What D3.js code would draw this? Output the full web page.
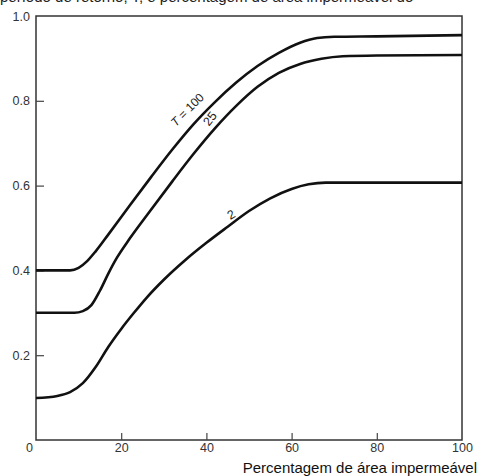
<!DOCTYPE html>
<html>
<head>
<meta charset="utf-8">
<script src="https://cdn.jsdelivr.net/npm/d3@7"></script>
<style>
  body { margin: 0; background: #fff; }
  svg { display: block; }
</style>
</head>
<body>
<div id="chart"></div>
<script>
// Curve values: [percentage impervious, coefficient]
const curveT100 = [
    [0, 0.400], [8, 0.400], [10, 0.406], [12, 0.422], [14, 0.445],
    [17, 0.485], [22, 0.553], [27, 0.620], [32, 0.685], [37, 0.745],
    [42, 0.797], [47, 0.843], [52, 0.882], [57, 0.913], [62, 0.937],
    [66, 0.948], [70, 0.951], [80, 0.952], [100, 0.955]
];
const curveT25 = [
    [0, 0.300], [9, 0.300], [11, 0.304], [13, 0.318], [15, 0.352],
    [17, 0.393], [19, 0.430], [22, 0.475], [27, 0.543], [32, 0.610],
    [37, 0.675], [42, 0.735], [47, 0.788], [52, 0.833], [57, 0.866],
    [62, 0.887], [67, 0.899], [72, 0.905], [80, 0.907], [100, 0.908]
];
const curveT2 = [
    [0, 0.099], [5, 0.104], [8, 0.113], [11, 0.134], [14, 0.172],
    [17, 0.220], [20, 0.262], [23, 0.300], [26, 0.336], [30, 0.378],
    [35, 0.424], [40, 0.465], [45, 0.503], [50, 0.540], [55, 0.570],
    [60, 0.592], [64, 0.603], [68, 0.607], [100, 0.607]
];
const xTicks = [0, 20, 40, 60, 80, 100];
const yTicks = [0.2, 0.4, 0.6, 0.8, 1.0];
const xTitle = "Percentagem de área impermeável";
const topText = "período de retorno, T, e percentagem de área impermeável do";

const width = 480, height = 476;

const svg = d3.select("#chart").append("svg")
    .attr("width", width)
    .attr("height", height)
    .style("font-family", "'Liberation Sans', Arial, sans-serif");

const x = d3.scaleLinear().domain([0, 100]).range([36, 462]);
const y = d3.scaleLinear().domain([0, 1]).range([440, 16]);

// caption line, cut off at the top edge as in the scan
svg.append("text")
    .attr("x", 0)
    .attr("y", 1.5)
    .attr("font-size", 15)
    .attr("fill", "#222")
    .text(topText);

// frame
svg.append("rect")
    .attr("x", x(0))
    .attr("y", y(1))
    .attr("width", x(100) - x(0))
    .attr("height", y(0) - y(1))
    .attr("fill", "none")
    .attr("stroke", "#333")
    .attr("stroke-width", 1.5);

// x axis (ticks point inward)
const xAxis = svg.append("g")
    .attr("transform", `translate(0,${y(0)})`)
    .call(d3.axisBottom(x).tickValues(xTicks).tickSizeInner(-7).tickSizeOuter(0).tickPadding(3));
xAxis.select(".domain").remove();
xAxis.selectAll("line").attr("stroke", "#444").attr("stroke-width", 1.2);
xAxis.selectAll("text")
    .attr("font-size", 12.5)
    .attr("fill", "#333")
    .attr("dx", d => d === 0 ? -7 : 0);
xAxis.selectAll(".tick").filter(d => d === 0 || d === 100).select("line").remove();

// y axis
const yAxis = svg.append("g")
    .attr("transform", `translate(${x(0)},0)`)
    .call(d3.axisLeft(y).tickValues(yTicks).tickFormat(d3.format(".1f")).tickSizeInner(-8).tickSizeOuter(0).tickPadding(6));
yAxis.select(".domain").remove();
yAxis.selectAll("line").attr("stroke", "#444").attr("stroke-width", 1.2);
yAxis.selectAll("text")
    .attr("font-size", 12.5)
    .attr("fill", "#333");
yAxis.selectAll(".tick").filter(d => d === 1).select("line").remove();

// axis title
svg.append("text")
    .attr("x", 477)
    .attr("y", 473)
    .attr("text-anchor", "end")
    .attr("font-size", 15)
    .attr("fill", "#111")
    .text(xTitle);

// curves
const line = d3.line()
    .x(d => x(d[0]))
    .y(d => y(d[1]))
    .curve(d3.curveMonotoneX);

[curveT100, curveT25, curveT2].forEach(c => {
    svg.append("path")
        .datum(c)
        .attr("d", line)
        .attr("fill", "none")
        .attr("stroke", "#111")
        .attr("stroke-width", 2.6);
});

// curve labels
const lab100 = svg.append("text")
    .attr("transform", `translate(${x(36.2)},${y(0.772)}) rotate(-45)`)
    .attr("text-anchor", "middle")
    .attr("font-size", 12)
    .attr("fill", "#222");
lab100.append("tspan").attr("font-style", "italic").text("T");
lab100.append("tspan").text(" = 100");

svg.append("text")
    .attr("transform", `translate(${x(41.6)},${y(0.752)}) rotate(-52)`)
    .attr("text-anchor", "middle")
    .attr("font-size", 12.5)
    .attr("fill", "#222")
    .text("25");

svg.append("text")
    .attr("transform", `translate(${x(46.3)},${y(0.523)}) rotate(-30)`)
    .attr("text-anchor", "middle")
    .attr("font-size", 12.5)
    .attr("fill", "#222")
    .text("2");
</script>
</body>
</html>
